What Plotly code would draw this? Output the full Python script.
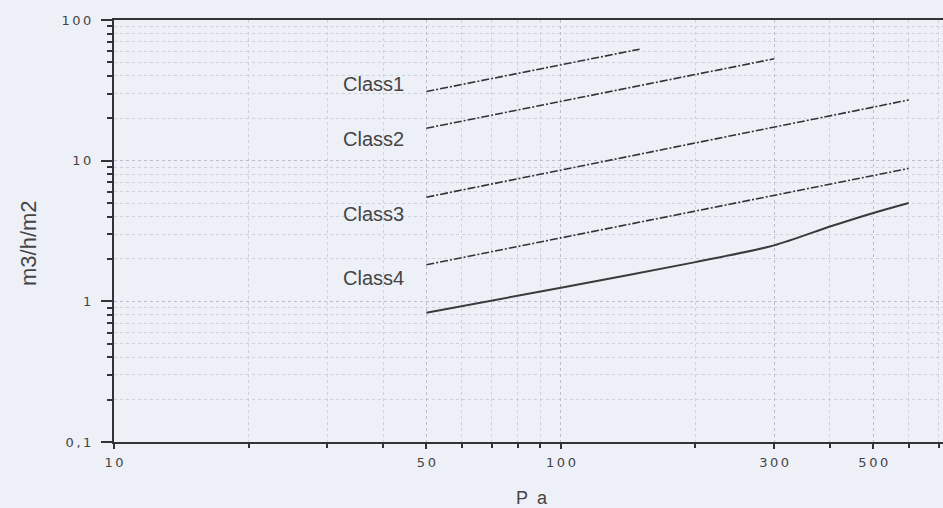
import math
import plotly.graph_objects as go

# ---- data ----
pressure_c1 = [50, 150]
flow_c1 = [31, 62]

pressure_c2 = [50, 300]
flow_c2 = [17, 53]

pressure_c3 = [50, 600]
flow_c3 = [5.5, 27]

pressure_c4 = [50, 600]
flow_c4 = [1.82, 8.8]

pressure_solid = [50, 100, 200, 300, 400, 500, 600]
flow_solid = [0.83, 1.25, 1.9, 2.5, 3.4, 4.25, 5.0]

class_labels = ["Class1", "Class2", "Class3", "Class4"]
label_x = [38, 38, 38, 38]
label_y = [35, 14.3, 4.2, 1.47]

x_tick_vals = [10, 50, 100, 300, 500]
x_tick_text = ["10", "50", "100", "300", "500"]
x_minor_vals = [20, 30, 40, 60, 70, 80, 90, 200, 400, 600, 700]
y_tick_vals = [0.1, 1, 10, 100]
y_tick_text = ["0,1", "1", "10", "100"]
y_minor_vals = [m * d for d in (0.1, 1, 10) for m in range(2, 10)]

BG = "#eef0f8"
INK = "#333333"
GRID = "#b9bdcc"
GRID_MINOR = "#cdd1de"

SP = "\u2009"  # thin space, to mimic the wide digit spacing


def spaced(s):
    return SP.join(list(s))


W, H = 943, 508
ML, MR, MT, MB = 114, 0, 20, 66
pw, ph = W - ML - MR, H - MT - MB

fig = go.Figure()
dash_style = "8px,2px,2px,2px"
for xs, ys in [(pressure_c1, flow_c1), (pressure_c2, flow_c2),
               (pressure_c3, flow_c3), (pressure_c4, flow_c4)]:
    fig.add_trace(go.Scatter(x=xs, y=ys, mode="lines",
                             line=dict(color=INK, width=1.6, dash=dash_style),
                             showlegend=False, hoverinfo="skip"))
fig.add_trace(go.Scatter(x=pressure_solid, y=flow_solid, mode="lines",
                         line=dict(color="#3a3a3a", width=2, shape="spline", smoothing=0.8),
                         showlegend=False, hoverinfo="skip"))

for t, lx, ly in zip(class_labels, label_x, label_y):
    fig.add_annotation(x=math.log10(lx), y=math.log10(ly), xref="x", yref="y",
                       text=t, showarrow=False,
                       font=dict(family="Liberation Sans, Arial, sans-serif", size=20, color="#444"),
                       xanchor="center", yanchor="middle")

fig.add_annotation(x=(28 - ML) / pw, y=(H - MB - 243) / ph, xref="paper", yref="paper",
                   text="m3/h/m2", showarrow=False, textangle=-90,
                   xanchor="center", yanchor="middle",
                   font=dict(family="Liberation Sans, Arial, sans-serif", size=22, color="#444"))
fig.add_annotation(x=(532 - ML) / pw, y=(H - MB - 498) / ph, xref="paper", yref="paper",
                   text="P\u2002a", showarrow=False,
                   xanchor="center", yanchor="middle",
                   font=dict(family="Liberation Sans, Arial, sans-serif", size=18, color="#444"))

fig.update_layout(
    width=W, height=H,
    margin=dict(l=ML, r=MR, t=MT, b=MB),
    paper_bgcolor=BG, plot_bgcolor=BG,
    showlegend=False,
)
tick_font = dict(family="DejaVu Sans, sans-serif", size=13, color="#444")
fig.update_xaxes(
    type="log", range=[1, 2.855],
    tickmode="array", tickvals=x_tick_vals, ticktext=[spaced(t) for t in x_tick_text],
    ticks="outside", ticklen=5, tickcolor=INK, tickwidth=1.5,
    ticklabelstandoff=2,
    showline=True, linecolor=INK, linewidth=2, mirror=True,
    showgrid=True, gridcolor=GRID, griddash="dot", gridwidth=1,
    minor=dict(tickmode="array", tickvals=x_minor_vals, ticks="outside", ticklen=4,
               tickcolor=INK, showgrid=True, gridcolor=GRID_MINOR, griddash="dot"),
    tickfont=tick_font,
    zeroline=False,
)
fig.update_yaxes(
    type="log", range=[-1, 2],
    tickmode="array", tickvals=y_tick_vals, ticktext=[spaced(t) for t in y_tick_text],
    ticks="outside", ticklen=11, tickcolor=INK, tickwidth=1.5,
    ticklabelstandoff=7,
    showline=True, linecolor=INK, linewidth=2,
    showgrid=True, gridcolor=GRID, griddash="dot", gridwidth=1,
    minor=dict(tickmode="array", tickvals=y_minor_vals, ticks="outside", ticklen=5,
               tickcolor=INK, showgrid=True, gridcolor=GRID_MINOR, griddash="dot"),
    tickfont=tick_font,
    zeroline=False,
)

fig.write_html("out.html", config={"displayModeBar": False},
               post_script="document.body.style.margin='0';document.body.style.background='" + BG + "';")
